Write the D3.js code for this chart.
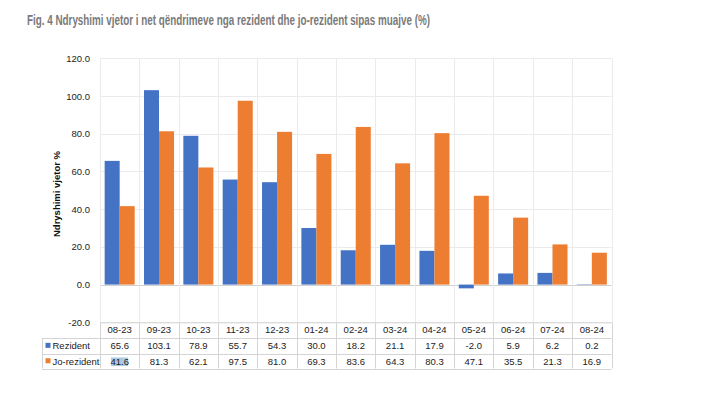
<!DOCTYPE html>
<html><head><meta charset="utf-8">
<script src="https://cdn.jsdelivr.net/npm/d3@7"></script>
<style>html,body{margin:0;padding:0;background:#fff;}svg{display:block;}</style>
</head><body>
<svg id="c" width="701" height="407"></svg>
<script>
const categories = ["08-23","09-23","10-23","11-23","12-23","01-24","02-24","03-24","04-24","05-24","06-24","07-24","08-24"];
const rezident = [65.6,103.1,78.9,55.7,54.3,30.0,18.2,21.1,17.9,-2.0,5.9,6.2,0.2];
const joRezident = [41.6,81.3,62.1,97.5,81.0,69.3,83.6,64.3,80.3,47.1,35.5,21.3,16.9];
const seriesNames = ["Rezident","Jo-rezident"];
const yTicks = [-20,0,20,40,60,80,100,120];
const colors = ["#4472C4","#ED7D31"];
const title = "Fig. 4 Ndryshimi vjetor i net qëndrimeve nga rezident dhe jo-rezident sipas muajve (%)";
const yLabel = "Ndryshimi vjetor %";

const svg = d3.select("#c");
const font = "'Liberation Sans', Arial, sans-serif";
const L = 100, R = 611.5, T = 58.3, B = 322.3;
const rowY = [322.3, 337.7, 354, 368.5];
const tableLeft = 42;

const x = d3.scaleBand().domain(categories).range([L, R]).paddingInner(0).paddingOuter(0);
const xs = d3.scaleBand().domain(seriesNames).range([0, x.bandwidth()]).paddingInner(0).paddingOuter(0.31);
const y = d3.scaleLinear().domain([-20, 120]).range([B, T]);

// title
svg.append("text").attr("x", 27).attr("y", 25).attr("font-family", font)
  .attr("font-size", 15).attr("font-weight", "bold").attr("fill", "#7a7a7a")
  .attr("textLength", 403).attr("lengthAdjust", "spacingAndGlyphs").text(title);

// horizontal gridlines
svg.append("g").selectAll("line").data(yTicks).join("line")
  .attr("x1", L).attr("x2", R).attr("y1", d => Math.round(y(d)) + 0.5).attr("y2", d => Math.round(y(d)) + 0.5)
  .attr("stroke", d => d === 0 ? "#d0d0d0" : "#ebebeb").attr("stroke-width", 1);

// vertical gridlines (category boundaries)
const bounds = categories.map(c => x(c)).concat([R]);
svg.append("g").selectAll("line").data(bounds).join("line")
  .attr("x1", d => Math.round(d) + 0.5).attr("x2", d => Math.round(d) + 0.5)
  .attr("y1", T).attr("y2", rowY[0])
  .attr("stroke", "#ebebeb");
svg.append("g").selectAll("line").data(bounds).join("line")
  .attr("x1", d => Math.round(d) + 0.5).attr("x2", d => Math.round(d) + 0.5)
  .attr("y1", rowY[0]).attr("y2", rowY[3])
  .attr("stroke", "#d4d4d4");

// y tick labels
svg.append("g").selectAll("text").data(yTicks).join("text")
  .attr("x", 90).attr("y", d => y(d) + 3.5).attr("text-anchor", "end")
  .attr("font-family", font).attr("font-size", 9.5).attr("fill", "#222")
  .text(d => d.toFixed(1));

// y label
svg.append("text").attr("transform", "translate(60,194) rotate(-90)")
  .attr("text-anchor", "middle").attr("font-family", font).attr("font-size", 9.5)
  .attr("font-weight", "bold").attr("fill", "#111").text(yLabel);

// bars
const data = [rezident, joRezident];
data.forEach((vals, si) => {
  svg.append("g").selectAll("rect").data(vals).join("rect")
    .attr("x", (d, i) => x(categories[i]) + xs(seriesNames[si]))
    .attr("width", xs.bandwidth())
    .attr("y", d => y(Math.max(0, d)))
    .attr("height", d => Math.abs(y(d) - y(0)))
    .attr("fill", colors[si]);
});

// table horizontal lines
svg.append("line").attr("x1", L).attr("x2", R).attr("y1", rowY[0] + 0.5).attr("y2", rowY[0] + 0.5).attr("stroke", "#d4d4d4");
[rowY[1], rowY[2], rowY[3]].forEach(yy => {
  svg.append("line").attr("x1", tableLeft).attr("x2", R).attr("y1", Math.round(yy) + 0.5).attr("y2", Math.round(yy) + 0.5).attr("stroke", "#d4d4d4");
});
svg.append("line").attr("x1", tableLeft + 0.5).attr("x2", tableLeft + 0.5).attr("y1", rowY[1]).attr("y2", rowY[3]).attr("stroke", "#d4d4d4");

// highlight artifact on first Jo-rezident cell
svg.append("rect").attr("x", 111).attr("y", 357.5).attr("width", 17).attr("height", 8.5).attr("fill", "#a9c9e3");

// header row
svg.append("g").selectAll("text").data(categories).join("text")
  .attr("x", d => x(d) + x.bandwidth() / 2).attr("y", 333)
  .attr("text-anchor", "middle").attr("font-family", font).attr("font-size", 9.5).attr("fill", "#222")
  .text(d => d);

// value rows
data.forEach((vals, si) => {
  const cy = (rowY[si + 1] + rowY[si + 2]) / 2 + 3.5;
  svg.append("g").selectAll("text").data(vals).join("text")
    .attr("x", (d, i) => x(categories[i]) + x.bandwidth() / 2).attr("y", cy)
    .attr("text-anchor", "middle").attr("font-family", font).attr("font-size", 9.5).attr("fill", "#222")
    .text(d => d.toFixed(1));
  svg.append("rect").attr("x", 45.5).attr("y", cy - 6.5).attr("width", 5).attr("height", 5).attr("fill", colors[si]);
  svg.append("text").attr("x", 52.5).attr("y", cy).attr("font-family", font).attr("font-size", 9.5).attr("fill", "#222")
    .text(seriesNames[si]);
});
</script>
</body></html>
